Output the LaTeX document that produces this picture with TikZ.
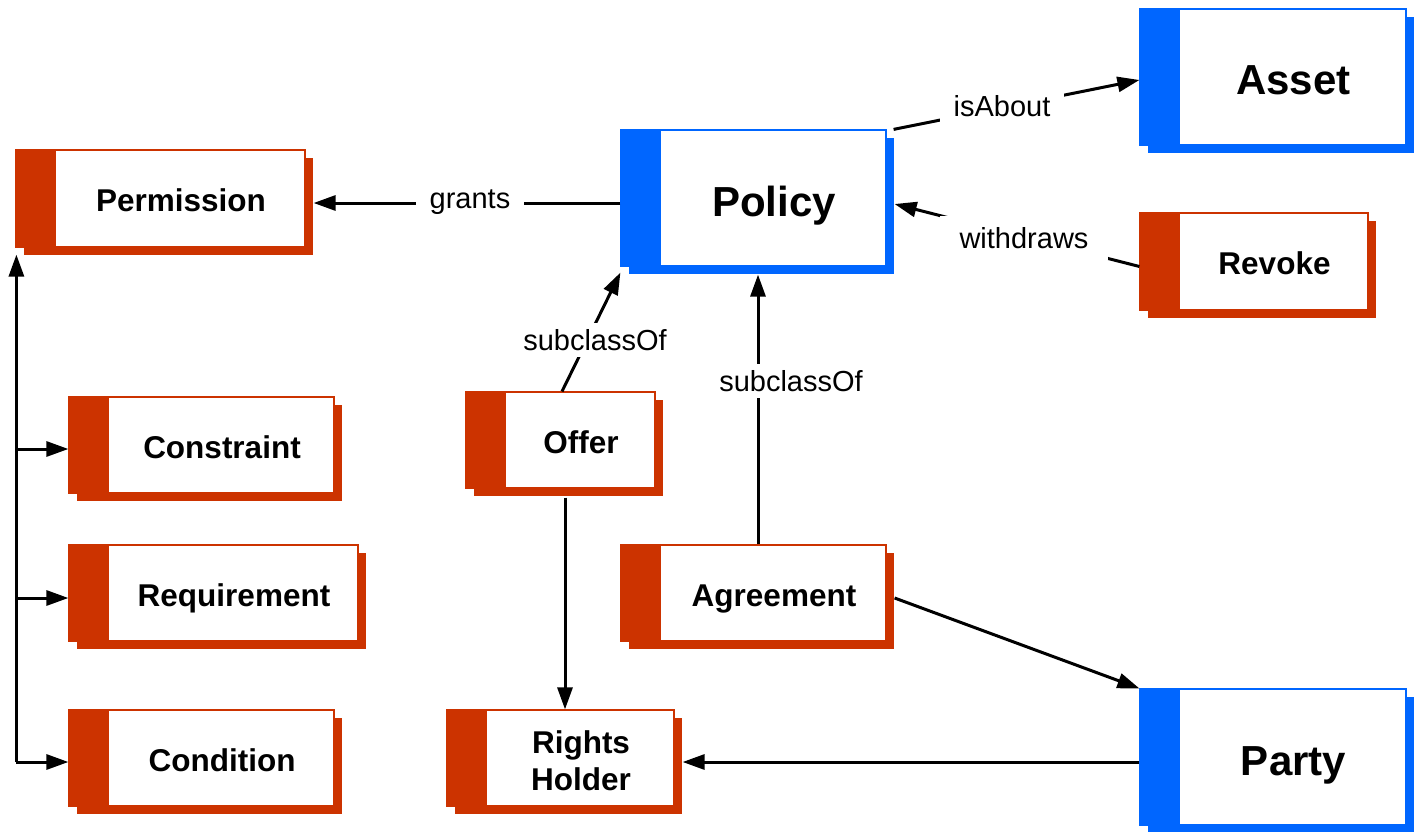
\documentclass[tikz,border=0pt]{standalone}
\usepackage{fontspec}
\setmainfont{Liberation Sans}
\usetikzlibrary{arrows.meta,calc}
\definecolor{ored}{RGB}{204,51,0}
\definecolor{oblue}{RGB}{0,102,255}
\tikzset{
  boxmain/.style={draw=#1, line width=1.2pt, fill=white, inner sep=0pt},
  smalltxt/.style={font=\fontsize{31.5}{37}\selectfont\bfseries, inner sep=0pt, anchor=base, yshift=-13pt},
  bigtxt/.style={font=\fontsize{42}{48}\selectfont\bfseries, inner sep=0pt, anchor=base, yshift=-18pt},
  lbl/.style={font=\fontsize{29}{34}\selectfont, fill=white, inner xsep=14pt, inner ysep=6pt},
  arr/.style={line width=3pt, -{Triangle[length=22pt,width=15pt]}},
}
% #1 name, #2 cx, #3 cy, #4 w, #5 h, #6 colour, #7 text style, #8 text
\newcommand\ccbox[8]{%
  \fill[#6] ({#2-#4/2+8},{#3-#5/2+8}) rectangle ({#2+#4/2+8},{#3+#5/2+8});
  \node[boxmain=#6, minimum width=#4pt, minimum height=#5pt] (#1) at (#2,#3) {};
  \fill[#6] (#1.north west) rectangle ([xshift=41pt]#1.south west);
  \draw[#6, line width=1.2pt] (#1.north west) rectangle (#1.south east);
  \node[#7, align=center] (#1-t) at ([xshift=20.5pt]#1.center) {#8};
}
\begin{document}
\begin{tikzpicture}[x=1pt,y=-1pt]
\useasboundingbox (0,0) rectangle (1418,832);
\ccbox{perm}{160.5}{198.5}{289}{97}{ored}{smalltxt}{Permission}
\ccbox{pol}{753.5}{198}{265}{136}{oblue}{bigtxt}{Policy}
\ccbox{asset}{1273}{77}{266}{136}{oblue}{bigtxt}{Asset}
\ccbox{rev}{1254}{261.5}{228}{97}{ored}{smalltxt}{Revoke}
\ccbox{offer}{560.5}{440}{189}{96}{ored}{smalltxt}{Offer}
\ccbox{cons}{201.5}{445}{265}{96}{ored}{smalltxt}{Constraint}
\ccbox{req}{213.5}{593}{289}{96}{ored}{smalltxt}{Requirement}
\ccbox{cond}{201.5}{758}{265}{96}{ored}{smalltxt}{Condition}
\ccbox{agr}{753.5}{593}{265}{96}{ored}{smalltxt}{Agreement}
\ccbox{rh}{560.5}{758}{227}{96}{ored}{smalltxt,yshift=-19pt}{Rights\\Holder}
\ccbox{party}{1273}{757}{266}{136}{oblue}{bigtxt}{Party}

% connectors
\draw[arr] ([yshift=-5pt]pol.west) -- ([xshift=8pt,yshift=-5pt]perm.east |- pol.west);
\draw[arr] ([xshift=7pt]pol.north east) -- ([yshift=-3pt]asset.west);
\draw[arr] ([yshift=-5pt]rev.west) -- ([xshift=8pt,yshift=-6pt]pol.east);
\draw[arr] ([xshift=1.5pt]offer.north) -- ([yshift=-6pt]pol.south west);
\draw[arr] ([xshift=4.5pt]agr.north) -- ([xshift=4.5pt,yshift=-8pt]pol.south);
\draw[arr] ([xshift=4.5pt,yshift=-9pt]offer.south) -- ([xshift=4.5pt]rh.north);
\draw[arr] ([xshift=8pt,yshift=-5pt]agr.east) -- (party.north west);
\draw[arr] ([yshift=-5pt]party.west) -- ([xshift=8pt,yshift=-4pt]rh.east);
% permission tree
\coordinate (tb) at ([xshift=1pt,yshift=-4pt]perm.south west |- cond.west);
\draw[arr] (tb) -- ([xshift=1pt,yshift=-7pt]perm.south west);
\draw[arr] ([yshift=-4pt]tb |- cons.west) -- ([yshift=-4pt]cons.west);
\draw[arr] ([yshift=-5pt]tb |- req.west) -- ([yshift=-5pt]req.west);
\draw[arr] (tb) -- ([yshift=-4pt]cond.west);

% labels
\node[lbl] (lgr) at (470,202) {grants};
\node[lbl] (lis) at (1002,106) {isAbout};
\node[lbl, inner xsep=20pt, inner ysep=11pt] (lwd) at (1024,238) {withdraws};
\node[lbl, inner xsep=4pt] (lsc1) at (595,340) {subclassOf};
\node[lbl, inner xsep=4pt] (lsc2) at (791,381) {subclassOf};
\end{tikzpicture}
\end{document}
